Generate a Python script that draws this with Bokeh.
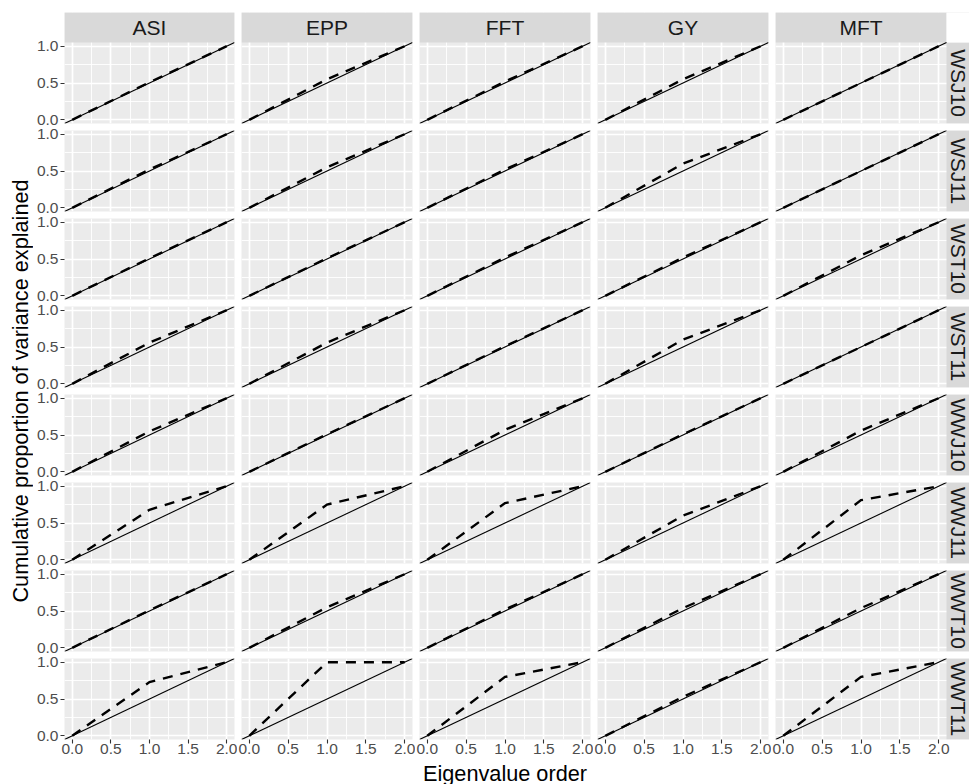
import math
from bokeh.plotting import figure
from bokeh.models import (Range1d, FixedTicker, LinearAxis, Grid, Label, PrintfTickFormatter)
from bokeh.layouts import gridplot, row, column
from bokeh.embed import file_html
from bokeh.resources import INLINE

# ---------------- data ----------------
traits = ["ASI", "EPP", "FFT", "GY", "MFT"]
environments = ["WSJ10", "WSJ11", "WST10", "WST11", "WWJ10", "WWJ11", "WWT10", "WWT11"]
eigen_order = [0, 1, 2]
cum_start = 0.0
cum_end = 1.0
# cumulative proportion of variance explained after the first eigenvalue (per environment)
asi_first = [0.51, 0.52, 0.51, 0.56, 0.55, 0.68, 0.51, 0.73]
epp_first = [0.55, 0.55, 0.51, 0.56, 0.51, 0.75, 0.55, 1.00]
fft_first = [0.52, 0.52, 0.52, 0.51, 0.57, 0.77, 0.52, 0.80]
gy_first = [0.55, 0.60, 0.52, 0.60, 0.51, 0.60, 0.54, 0.53]
mft_first = [0.50, 0.50, 0.55, 0.50, 0.56, 0.81, 0.54, 0.80]
# reference line (equal eigenvalues)
ref_slope = 0.5
ref_intercept = 0.0
x_ticks = [0.0, 0.5, 1.0, 1.5, 2.0]
x_minor = [0.25, 0.75, 1.25, 1.75]
y_ticks = [0.0, 0.5, 1.0]
y_minor = [0.25, 0.75]
x_title = "Eigenvalue order"
y_title = "Cumulative proportion of variance explained"

first_by_trait = [asi_first, epp_first, fft_first, gy_first, mft_first]

# ---------------- style / layout ----------------
FONT = "Liberation Sans"
PW, PH = 171, 81
X0, X1 = -0.1, 2.1
Y0, Y1 = -0.05, 1.05
XPP = (X1 - X0) / PW
YPP = (Y1 - Y0) / PH
STRIP_H = 30
STRIP_W = 23
LEFT_AX = 30
TOP0 = 12
BOTTOM = 22
YT_W = 33
PANEL_BG = "#EBEBEB"
STRIP_BG = "#D9D9D9"
TICK_FONT_SIZE = "15.5px"
STRIP_FONT_SIZE = "21px"
TITLE_FONT_SIZE = "21.7px"

nrows, ncols = len(environments), len(traits)


def axis_kw(standoff):
    return dict(axis_line_color=None, major_tick_line_color="#333333",
                major_tick_line_width=1.1, major_tick_in=0, major_tick_out=4,
                minor_tick_line_color=None, major_label_standoff=standoff,
                major_label_text_font=FONT, major_label_text_font_size=TICK_FONT_SIZE,
                major_label_text_color="#4D4D4D",
                formatter=PrintfTickFormatter(format="%.1f"))


def drop_default_grids(f):
    f.center = [obj for obj in f.center if not isinstance(obj, Grid)]


grid_rows = []
for r, env in enumerate(environments):
    fig_row = []
    for c, trait in enumerate(traits):
        has_top_strip = (r == 0)
        has_right_strip = (c == ncols - 1)
        left = LEFT_AX if c == 0 else 4
        right = 0 if has_right_strip else 3
        top = TOP0 if r == 0 else 4
        bottom = BOTTOM if r == nrows - 1 else 3
        fw = PW + (STRIP_W if has_right_strip else 0)
        fh = PH + (STRIP_H if has_top_strip else 0)
        xr_end = X1 + (STRIP_W * XPP if has_right_strip else 0)
        yr_end = Y1 + (STRIP_H * YPP if has_top_strip else 0)
        p = figure(width=left + fw + right, height=top + fh + bottom,
                   x_range=Range1d(X0, xr_end), y_range=Range1d(Y0, yr_end),
                   x_axis_location=None, y_axis_location=None, title=None,
                   toolbar_location=None, output_backend="svg",
                   min_border_left=left, min_border_right=right,
                   min_border_top=top, min_border_bottom=bottom,
                   background_fill_color=PANEL_BG, border_fill_color="white",
                   outline_line_color=None)
        drop_default_grids(p)
        xt = FixedTicker(ticks=x_ticks, minor_ticks=x_minor)
        yt = FixedTicker(ticks=y_ticks, minor_ticks=y_minor)
        for dim, tk in ((0, xt), (1, yt)):
            p.add_layout(Grid(dimension=dim, ticker=tk,
                              grid_line_color="white", grid_line_width=1.7,
                              minor_grid_line_color="white", minor_grid_line_width=0.9))

        # strips (facet labels) occupy the extended part of the frame
        if has_top_strip:
            p.quad(left=X0, right=X1, bottom=Y1, top=yr_end,
                   fill_color=STRIP_BG, line_color=None)
            p.add_layout(Label(x=(X0 + X1) / 2, y=(Y1 + yr_end) / 2, text=trait,
                               text_align="center", text_baseline="middle",
                               text_font=FONT, text_font_size=STRIP_FONT_SIZE,
                               text_color="#1A1A1A"))
        if has_right_strip:
            p.quad(left=X1, right=xr_end, bottom=Y0, top=Y1,
                   fill_color=STRIP_BG, line_color=None)
            p.add_layout(Label(x=(X1 + xr_end) / 2, y=(Y0 + Y1) / 2, text=env,
                               angle=-math.pi / 2,
                               text_align="center", text_baseline="middle",
                               text_font=FONT, text_font_size=STRIP_FONT_SIZE,
                               text_color="#1A1A1A"))
        if has_top_strip and has_right_strip:
            p.quad(left=X1, right=xr_end, bottom=Y1, top=yr_end,
                   fill_color="white", line_color=None)

        # reference line across the panel
        p.line([X0, X1], [ref_slope * X0 + ref_intercept, ref_slope * X1 + ref_intercept],
               line_color="black", line_width=1.1)
        # cumulative proportion of variance explained
        ys = [cum_start, first_by_trait[c][r], cum_end]
        p.line(eigen_order, ys, line_color="black", line_width=2.4,
               line_dash="10 8", line_cap="butt", line_join="miter")

        if r == nrows - 1:
            p.add_layout(LinearAxis(ticker=xt, **axis_kw(0)), "below")
        if c == 0:
            p.add_layout(LinearAxis(ticker=yt, **axis_kw(2)), "left")
        fig_row.append(p)
    grid_rows.append(fig_row)

grid = gridplot(grid_rows, toolbar_location=None)

grid_h = (TOP0 + STRIP_H + PH + 3) + (nrows - 2) * 88 + (4 + PH + BOTTOM)
grid_w = (LEFT_AX + PW + 3) + (ncols - 2) * 178 + (4 + PW + STRIP_W)
panels_top = TOP0 + STRIP_H
panels_bottom = panels_top + nrows * 88 - 7
panels_left = YT_W + LEFT_AX
panels_right = panels_left + ncols * 178 - 7
total_w = YT_W + grid_w
XT_H = 784 - grid_h


def blank_fig(w, h):
    f = figure(width=w, height=h, x_range=Range1d(0, w), y_range=Range1d(0, h),
               x_axis_location=None, y_axis_location=None, toolbar_location=None,
               title=None, output_backend="svg",
               min_border_left=0, min_border_right=0,
               min_border_top=0, min_border_bottom=0, outline_line_color=None,
               background_fill_color="white", border_fill_color="white")
    drop_default_grids(f)
    return f


yt_fig = blank_fig(YT_W, grid_h)
yt_fig.add_layout(Label(x=20, y=grid_h - (panels_top + panels_bottom) / 2, text=y_title,
                        angle=math.pi / 2, text_align="center", text_baseline="middle",
                        text_font=FONT, text_font_size=TITLE_FONT_SIZE, text_color="black"))

xt_fig = blank_fig(total_w, XT_H)
xt_fig.add_layout(Label(x=(panels_left + panels_right) / 2, y=XT_H / 2, text=x_title,
                        text_align="center", text_baseline="middle",
                        text_font=FONT, text_font_size=TITLE_FONT_SIZE, text_color="black"))

layout = column(row(yt_fig, grid), xt_fig)
open("out.html", "w").write(file_html(layout, INLINE))
